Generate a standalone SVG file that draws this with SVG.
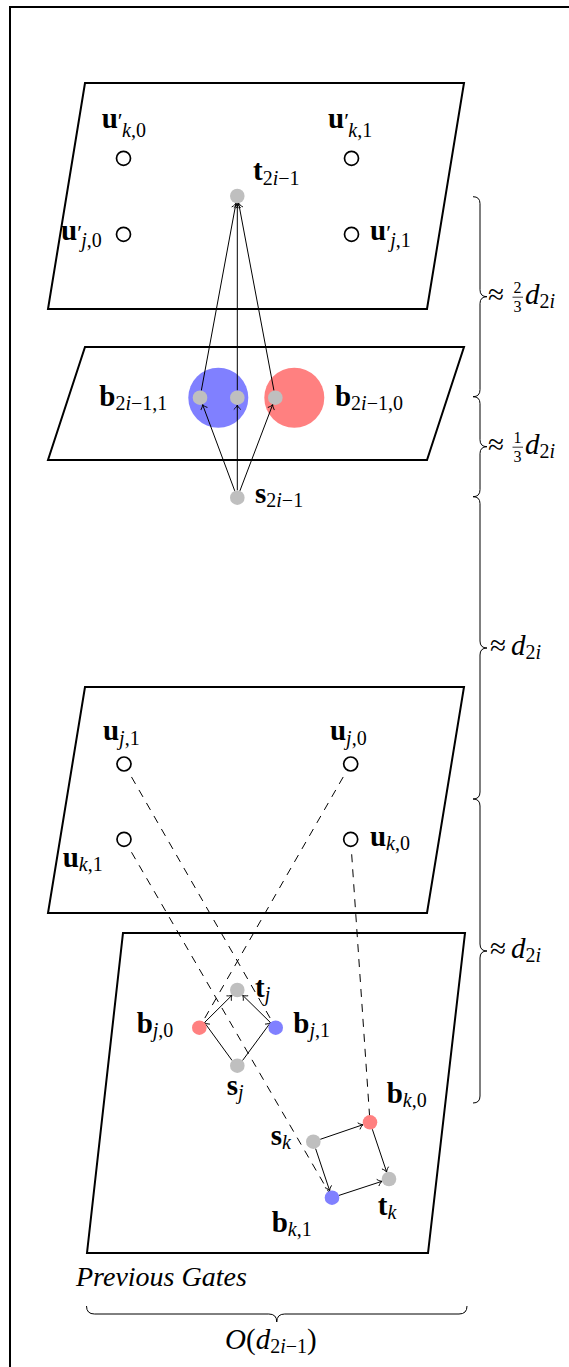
<svg xmlns="http://www.w3.org/2000/svg" width="569" height="1367" viewBox="0 0 569 1367">
<style>
text{font-family:"Liberation Serif",serif;font-size:29px;fill:#000}
.bf{font-weight:bold}
.it{font-style:italic}
.sub{font-size:20px}
.fr{font-size:16px}
.pr{font-size:22px}
.frame{fill:none;stroke:#000;stroke-width:2}
.plane{fill:none;stroke:#000;stroke-width:2}
.hole{fill:#fff;stroke:#000;stroke-width:1.7}
.gray{fill:#bfbfbf}
.red{fill:#ff8080}
.blue{fill:#8080ff}
.arr{fill:none;stroke:#000;stroke-width:1;marker-end:url(#tip)}
.dash{fill:none;stroke:#000;stroke-width:1;stroke-dasharray:8 7;stroke-dashoffset:8}
.brace{fill:none;stroke:#000;stroke-width:1}
</style>
<defs>
<marker id="tip" markerUnits="userSpaceOnUse" viewBox="-6 -5 8 10" markerWidth="8" markerHeight="10" refX="0" refY="0" orient="auto" overflow="visible">
<path d="M-4.5,-3.5 C-2.8,-1.3 -0.9,-0.3 0,0 C-0.9,0.3 -2.8,1.3 -4.5,3.5" fill="none" stroke="#000" stroke-width="0.9"/>
</marker>
</defs>
<path class="frame" d="M10,1367 V7 H569"/>

<g id="planes">
<polygon id="plane-top" class="plane" points="85,83 464,83 427,309 48,309"/>
<polygon id="plane-b" class="plane" points="85,347 464,347 427,460 48,460"/>
<polygon id="plane-u" class="plane" points="85,687 464,687 427,913 48,913"/>
<polygon id="plane-prev" class="plane" points="123,933 465,933 428,1253 87,1253"/>
</g>

<g id="b-sets">
<circle id="set-b1" class="blue" cx="218.3" cy="397.7" r="30"/>
<circle id="set-b0" class="red" cx="294.3" cy="397.7" r="30"/>
</g>

<g id="connectors">
<line class="arr" x1="234.75" y1="490.86" x2="202.55" y2="404.54"/>
<line class="arr" x1="237.3" y1="490.4" x2="237.3" y2="405"/>
<line class="arr" x1="239.89" y1="490.88" x2="272.71" y2="404.52"/>
<line class="arr" x1="201.33" y1="390.52" x2="235.97" y2="203.18"/>
<line class="arr" x1="237.3" y1="390.4" x2="237.3" y2="203.3"/>
<line class="arr" x1="273.95" y1="390.53" x2="238.65" y2="203.17"/>
<line class="dash" x1="128" y1="770.9" x2="275.7" y2="1027.7"/>
<line class="dash" x1="346.7" y1="770.9" x2="199.3" y2="1027.7"/>
<line class="dash" x1="128" y1="846.2" x2="332" y2="1197.7"/>
<line class="dash" x1="351.2" y1="847.3" x2="370" y2="1122.3"/>
<line class="arr" x1="232.14" y1="1060.54" x2="204.46" y2="1022.54"/>
<line class="arr" x1="242.49" y1="1060.57" x2="270.51" y2="1022.57"/>
<line class="arr" x1="204.48" y1="1022.56" x2="232.12" y2="995.14"/>
<line class="arr" x1="270.49" y1="1022.59" x2="242.51" y2="995.11"/>
<line class="arr" x1="320.21" y1="1139.34" x2="363.09" y2="1124.66"/>
<line class="arr" x1="315.61" y1="1148.62" x2="329.69" y2="1190.78"/>
<line class="arr" x1="372.32" y1="1129.22" x2="386.68" y2="1172.08"/>
<line class="arr" x1="338.94" y1="1195.42" x2="382.06" y2="1181.28"/>
</g>

<g id="n-ukp0">
<circle class="hole" cx="123.5" cy="158.3" r="7"/>
<text x="101.7" y="128"><tspan class="bf">u</tspan><tspan class="pr">′</tspan><tspan class="sub" x="122" y="136.5"><tspan class="it">k</tspan>,0</tspan></text>
</g>
<g id="n-ukp1">
<circle class="hole" cx="351.5" cy="158.3" r="7"/>
<text x="328" y="128"><tspan class="bf">u</tspan><tspan class="pr">′</tspan><tspan class="sub" x="348.3" y="136.5"><tspan class="it">k</tspan>,1</tspan></text>
</g>
<g id="n-ujp0">
<circle class="hole" cx="123.5" cy="234.3" r="7"/>
<text x="61" y="240"><tspan class="bf">u</tspan><tspan class="pr">′</tspan><tspan class="sub" x="81.3" y="247"><tspan class="it">j</tspan>,0</tspan></text>
</g>
<g id="n-ujp1">
<circle class="hole" cx="351.5" cy="234.3" r="7"/>
<text x="370" y="240"><tspan class="bf">u</tspan><tspan class="pr">′</tspan><tspan class="sub" x="390.3" y="247"><tspan class="it">j</tspan>,1</tspan></text>
</g>
<g id="n-t2i1">
<circle class="gray" cx="237.3" cy="196" r="7.3"/>
<text x="253" y="180"><tspan class="bf">t</tspan><tspan class="sub" x="262.7" y="185">2<tspan class="it">i</tspan>−1</tspan></text>
</g>
<g id="n-b1">
<circle class="gray" cx="200" cy="397.7" r="7.3"/>
<circle class="gray" cx="237.3" cy="397.7" r="7.3"/>
<text x="99.3" y="406"><tspan class="bf">b</tspan><tspan class="sub" x="115.4" y="410">2<tspan class="it">i</tspan>−1,1</tspan></text>
</g>
<g id="n-b0">
<circle class="gray" cx="275.3" cy="397.7" r="7.3"/>
<text x="335" y="406"><tspan class="bf">b</tspan><tspan class="sub" x="351.1" y="410">2<tspan class="it">i</tspan>−1,0</tspan></text>
</g>
<g id="n-s2i1">
<circle class="gray" cx="237.3" cy="497.7" r="7.3"/>
<text x="255" y="503"><tspan class="bf">s</tspan><tspan class="sub" x="266.3" y="507">2<tspan class="it">i</tspan>−1</tspan></text>
</g>

<g id="n-uj1">
<circle class="hole" cx="124" cy="764" r="7"/>
<text x="103" y="740"><tspan class="bf">u</tspan><tspan class="sub" x="119.1" y="745"><tspan class="it">j</tspan>,1</tspan></text>
</g>
<g id="n-uj0">
<circle class="hole" cx="350.7" cy="764" r="7"/>
<text x="330" y="740"><tspan class="bf">u</tspan><tspan class="sub" x="346.1" y="745"><tspan class="it">j</tspan>,0</tspan></text>
</g>
<g id="n-uk1">
<circle class="hole" cx="124" cy="839.3" r="7"/>
<text x="62.7" y="867"><tspan class="bf">u</tspan><tspan class="sub" x="78.8" y="871"><tspan class="it">k</tspan>,1</tspan></text>
</g>
<g id="n-uk0">
<circle class="hole" cx="350.7" cy="839.3" r="7"/>
<text x="370" y="846"><tspan class="bf">u</tspan><tspan class="sub" x="386.1" y="850"><tspan class="it">k</tspan>,0</tspan></text>
</g>

<g id="n-tj">
<circle class="gray" cx="237.3" cy="990" r="7.3"/>
<text x="255" y="997"><tspan class="bf">t</tspan><tspan class="sub it" x="264.7" y="1001">j</tspan></text>
</g>
<g id="n-bj0">
<circle class="red" cx="199.3" cy="1027.7" r="7.3"/>
<text x="136.7" y="1033"><tspan class="bf">b</tspan><tspan class="sub" x="152.8" y="1037"><tspan class="it">j</tspan>,0</tspan></text>
</g>
<g id="n-bj1">
<circle class="blue" cx="275.7" cy="1027.7" r="7.3"/>
<text x="293.3" y="1033"><tspan class="bf">b</tspan><tspan class="sub" x="309.4" y="1037"><tspan class="it">j</tspan>,1</tspan></text>
</g>
<g id="n-sj">
<circle class="gray" cx="237.3" cy="1065.7" r="7.3"/>
<text x="226.7" y="1095"><tspan class="bf">s</tspan><tspan class="sub it" x="238" y="1099">j</tspan></text>
</g>
<g id="n-bk0">
<circle class="red" cx="370" cy="1122.3" r="7.3"/>
<text x="386.7" y="1103"><tspan class="bf">b</tspan><tspan class="sub" x="402.8" y="1107"><tspan class="it">k</tspan>,0</tspan></text>
</g>
<g id="n-sk">
<circle class="gray" cx="313.3" cy="1141.7" r="7.3"/>
<text x="270.7" y="1145"><tspan class="bf">s</tspan><tspan class="sub it" x="282" y="1149">k</tspan></text>
</g>
<g id="n-tk">
<circle class="gray" cx="389" cy="1179" r="7.3"/>
<text x="377.7" y="1215"><tspan class="bf">t</tspan><tspan class="sub it" x="387.4" y="1219">k</tspan></text>
</g>
<g id="n-bk1">
<circle class="blue" cx="332" cy="1197.7" r="7.3"/>
<text x="271.7" y="1232"><tspan class="bf">b</tspan><tspan class="sub" x="287.8" y="1236"><tspan class="it">k</tspan>,1</tspan></text>
</g>

<g id="braces">
<path class="brace" d="M473,196.7 Q480,196.7 480,203.7 L480,289.7 Q480,296.7 487,296.7 Q480,296.7 480,303.7 L480,389.7 Q480,396.7 473,396.7"/>
<path class="brace" d="M473,396.7 Q480,396.7 480,403.7 L480,439.7 Q480,446.7 487,446.7 Q480,446.7 480,453.7 L480,489.7 Q480,496.7 473,496.7"/>
<path class="brace" d="M473,496.7 Q480,496.7 480,503.7 L480,641 Q480,648 487,648 Q480,648 480,655 L480,792 Q480,799 473,799"/>
<path class="brace" d="M473,799 Q480,799 480,806 L480,944 Q480,951 487,951 Q480,951 480,958 L480,1096 Q480,1103 473,1103"/>
<path class="brace" d="M86.5,1306 Q86.5,1314 94.5,1314 L268.75,1314 Q276.75,1314 276.75,1322 Q276.75,1314 284.75,1314 L459,1314 Q467,1314 467,1306"/>
<line x1="512.5" y1="297.2" x2="523" y2="297.2" stroke="#000" stroke-width="0.8"/>
<line x1="512.5" y1="447.2" x2="523" y2="447.2" stroke="#000" stroke-width="0.8"/>
</g>

<g id="brace-labels">
<text x="488" y="304">≈<tspan class="fr" x="513.5" y="293">2</tspan><tspan class="fr" x="513.5" y="312">3</tspan><tspan class="it" x="525" y="304">d</tspan><tspan class="sub" x="539.5" y="308">2<tspan class="it">i</tspan></tspan></text>
<text x="488" y="454">≈<tspan class="fr" x="513.5" y="443">1</tspan><tspan class="fr" x="513.5" y="462">3</tspan><tspan class="it" x="525" y="454">d</tspan><tspan class="sub" x="539.5" y="458">2<tspan class="it">i</tspan></tspan></text>
<text x="490" y="655">≈<tspan class="it" x="511" y="655">d</tspan><tspan class="sub" x="525.5" y="659">2<tspan class="it">i</tspan></tspan></text>
<text x="490" y="958">≈<tspan class="it" x="511" y="958">d</tspan><tspan class="sub" x="525.5" y="962">2<tspan class="it">i</tspan></tspan></text>
<text x="76" y="1286" class="it" style="font-size:28px">Previous Gates</text>
<text x="225" y="1349"><tspan class="it">O</tspan>(<tspan class="it">d</tspan><tspan class="sub" dy="4">2<tspan class="it">i</tspan>−1</tspan><tspan dy="-4">)</tspan></text>
</g>
</svg>
